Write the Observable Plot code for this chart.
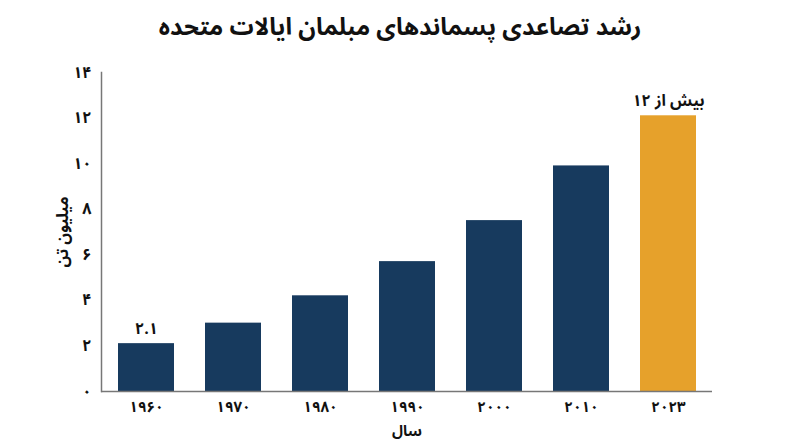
<!DOCTYPE html>
<html lang="fa">
<head>
<meta charset="utf-8">
<script src="https://cdn.jsdelivr.net/npm/d3@7"></script>
<script src="https://cdn.jsdelivr.net/npm/@observablehq/plot@0.6"></script>
<style>
  html, body { margin: 0; padding: 0; background: #fff; }
  body { width: 800px; height: 447px; overflow: hidden; font-family: "Noto Sans Arabic", "Vazirmatn", "DejaVu Sans", sans-serif; }
  #title { height: 55px; line-height: 56px; text-align: center; font-size: 24px; font-weight: bold; color: #111; direction: rtl; }
</style>
</head>
<body>
<div id="title">رشد تصاعدی پسماندهای مبلمان ایالات متحده</div>
<div id="chart"></div>
<script>
const years = ["۱۹۶۰", "۱۹۷۰", "۱۹۸۰", "۱۹۹۰", "۲۰۰۰", "۲۰۱۰", "۲۰۲۳"];
const values = [2.1, 3.0, 4.2, 5.7, 7.5, 9.9, 12.1];
const yTicks = [0, 2, 4, 6, 8, 10, 12, 14];
const annotations = [
  { year: "۱۹۶۰", value: 2.1, text: "۲.۱" },
  { year: "۲۰۲۳", value: 12.1, text: "بیش از ۱۲" }
];
const highlightYear = "۲۰۲۳";

const navy = "#173a5e";
const orange = "#e6a12b";
const fa = n => String(n).replace(/\d/g, c => "۰۱۲۳۴۵۶۷۸۹"[c]);

const data = years.map((year, i) => ({ year, value: values[i] }));

const chart = Plot.plot({
  width: 800,
  height: 392,
  marginTop: 17,
  marginBottom: 56,
  marginLeft: 101,
  marginRight: 88,
  style: { fontFamily: "Noto Sans Arabic, Vazirmatn, DejaVu Sans, sans-serif", fontWeight: "bold", fontSize: "15px", color: "#111" },
  x: { domain: years, paddingInner: 0.36, paddingOuter: 0.17 },
  y: { domain: [0, 14] },
  marks: [
    Plot.barY(data, { x: "year", y: "value", fill: d => d.year === highlightYear ? orange : navy }),
    Plot.text(annotations, { x: "year", y: "value", text: "text", dy: -15, fontSize: 16, fontWeight: "bold", fill: "#111" }),
    Plot.ruleY([0], { stroke: "#777", strokeWidth: 1.5 }),
    Plot.frame({ anchor: "left", stroke: "#777", strokeWidth: 1.5 }),
    Plot.axisY({ ticks: yTicks, tickSize: 0, tickPadding: 10, tickFormat: fa, fontSize: 16,
      label: "میلیون تن", labelAnchor: "center", labelArrow: "none", labelOffset: 45 }),
    Plot.axisX({ tickSize: 0, tickPadding: 10, fontSize: 15,
      label: "سال", labelAnchor: "center", labelArrow: "none", labelOffset: 44 })
  ]
});
document.getElementById("chart").appendChild(chart);
</script>
</body>
</html>
